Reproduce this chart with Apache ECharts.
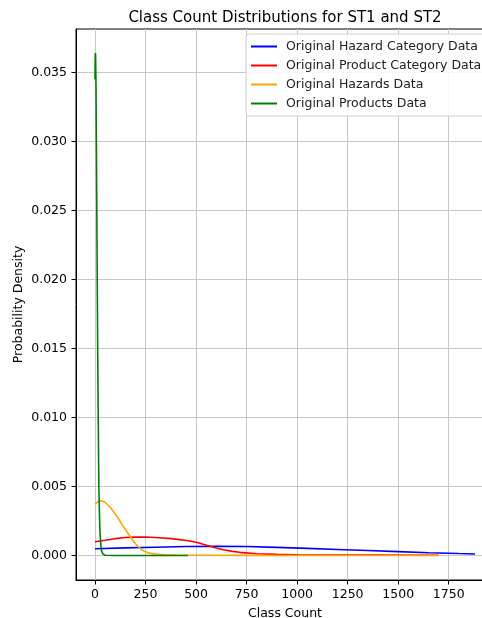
<!DOCTYPE html>
<html>
<head>
<meta charset="utf-8">
<script src="https://cdn.jsdelivr.net/npm/echarts@6/dist/echarts.min.js"></script>
<style>
  html, body { margin: 0; padding: 0; background: #fff; overflow: hidden; }
  #chart { width: 520px; height: 618px; }
</style>
</head>
<body>
<div id="chart"></div>
<script>
// Kernel density curves of class counts, as [classCount, density] pairs
const hazardCategory = [
  [0, 0.00049], [150, 0.00055], [300, 0.00060], [450, 0.00065], [600, 0.00067],
  [750, 0.00065], [900, 0.00059], [1050, 0.00052], [1200, 0.00044], [1350, 0.00036],
  [1500, 0.00028], [1650, 0.00020], [1800, 0.00014], [1880, 0.00011]
];
const productCategory = [
  [0, 0.00100], [50, 0.00110], [100, 0.00122], [150, 0.00130], [200, 0.00133],
  [250, 0.00134], [300, 0.00131], [380, 0.00122], [470, 0.00105], [510, 0.00093],
  [552, 0.00075], [600, 0.00055], [635, 0.00042], [680, 0.00030], [717, 0.00023],
  [800, 0.00013], [900, 0.00008], [1000, 0.00006], [1200, 0.00004], [1400, 0.00003],
  [1700, 0.00002]
];
const hazards = [
  [0, 0.00373], [15, 0.00390], [28, 0.00397], [45, 0.00390], [64, 0.00366],
  [80, 0.00340], [97, 0.00306], [115, 0.00270], [130, 0.00233], [147, 0.00196],
  [163, 0.00161], [180, 0.00125], [196, 0.00093], [212, 0.00067], [229, 0.00045],
  [245, 0.00030], [262, 0.00020], [290, 0.00012], [312, 0.00009], [350, 0.00005],
  [400, 0.00003], [500, 0.00002], [700, 0.00001], [1000, 0], [1700, 0]
];
const products = [
  [0, 0.0345], [1, 0.0360], [2, 0.0364], [3, 0.0362], [5, 0.0340], [7, 0.0295],
  [9, 0.0250], [11, 0.0200], [13, 0.0155], [16, 0.0100], [19, 0.0050], [22, 0.0030],
  [25, 0.0016], [29, 0.0007], [33, 0.0003], [40, 0.0001], [50, 0.00002], [100, 0],
  [460, 0]
];
const seriesNames = [
  'Original Hazard Category Data',
  'Original Product Category Data',
  'Original Hazards Data',
  'Original Products Data'
];
const xTicks = [0, 250, 500, 750, 1000, 1250, 1500, 1750];
const yTicks = [0, 0.005, 0.010, 0.015, 0.020, 0.025, 0.030, 0.035];

const FONT = 'DejaVu Sans';
const colors = ['#0000ff', '#ff0000', '#ffa500', '#008000'];
const datasets = [hazardCategory, productCategory, hazards, products];

const chart = echarts.init(document.getElementById('chart'), null, { renderer: 'canvas' });

chart.setOption({
  animation: false,
  backgroundColor: '#ffffff',
  textStyle: { fontFamily: FONT },
  title: {
    text: 'Class Count Distributions for ST1 and ST2',
    left: 280,
    textAlign: 'center',
    top: 6,
    textStyle: { fontFamily: FONT, fontSize: 15, fontWeight: 'normal', color: '#000' }
  },
  legend: {
    data: seriesNames,
    orient: 'vertical',
    left: 246,
    top: 34,
    padding: [6, 40, 6, 5],
    itemGap: 6,
    itemWidth: 26,
    itemHeight: 2,
    icon: 'rect',
    backgroundColor: 'rgba(255,255,255,0.85)',
    borderColor: '#d0d0d0',
    borderWidth: 1,
    borderRadius: 3,
    textStyle: { fontFamily: FONT, fontSize: 12.5, color: '#222', padding: [0, 0, 0, 4] }
  },
  grid: {
    left: 76, top: 29, right: 26, bottom: 38,
    outerBoundsMode: 'none',
    containLabel: false,
    show: true, borderColor: '#000', borderWidth: 1, backgroundColor: 'transparent'
  },
  xAxis: {
    type: 'value',
    min: -94, max: 1974,
    name: 'Class Count',
    nameLocation: 'middle',
    nameGap: 27,
    nameMoveOverlap: false,
    nameTextStyle: { fontFamily: FONT, fontSize: 12.5, color: '#000' },
    axisLine: { show: true, onZero: false, lineStyle: { color: '#000', width: 1 } },
    axisTick: { show: true, inside: false, customValues: xTicks, length: 4.5, lineStyle: { color: '#000', width: 1 } },
    axisLabel: {
      customValues: xTicks, fontFamily: FONT, fontSize: 12.5, color: '#000', margin: 8,
      formatter: v => String(v)
    },
    splitLine: { show: true, lineStyle: { color: '#c8c8c8', width: 1 } }
  },
  yAxis: {
    type: 'value',
    min: -0.001775, max: 0.03815,
    name: 'Probability Density',
    nameLocation: 'middle',
    nameGap: 51,
    nameMoveOverlap: false,
    nameTextStyle: { fontFamily: FONT, fontSize: 12.5, color: '#000' },
    axisLine: { show: true, onZero: false, lineStyle: { color: '#000', width: 1 } },
    axisTick: { show: true, inside: false, customValues: yTicks, length: 4.5, lineStyle: { color: '#000', width: 1 } },
    axisLabel: {
      customValues: yTicks, fontFamily: FONT, fontSize: 12.5, color: '#000', margin: 9,
      formatter: v => v.toFixed(3)
    },
    splitLine: { show: true, lineStyle: { color: '#c8c8c8', width: 1 } }
  },
  series: datasets.map((d, i) => ({
    name: seriesNames[i],
    type: 'line',
    data: d,
    showSymbol: false,
    symbol: 'none',
    color: colors[i],
    lineStyle: { color: colors[i], width: 1.6 },
    z: 2 + i
  }))
});
</script>
</body>
</html>
